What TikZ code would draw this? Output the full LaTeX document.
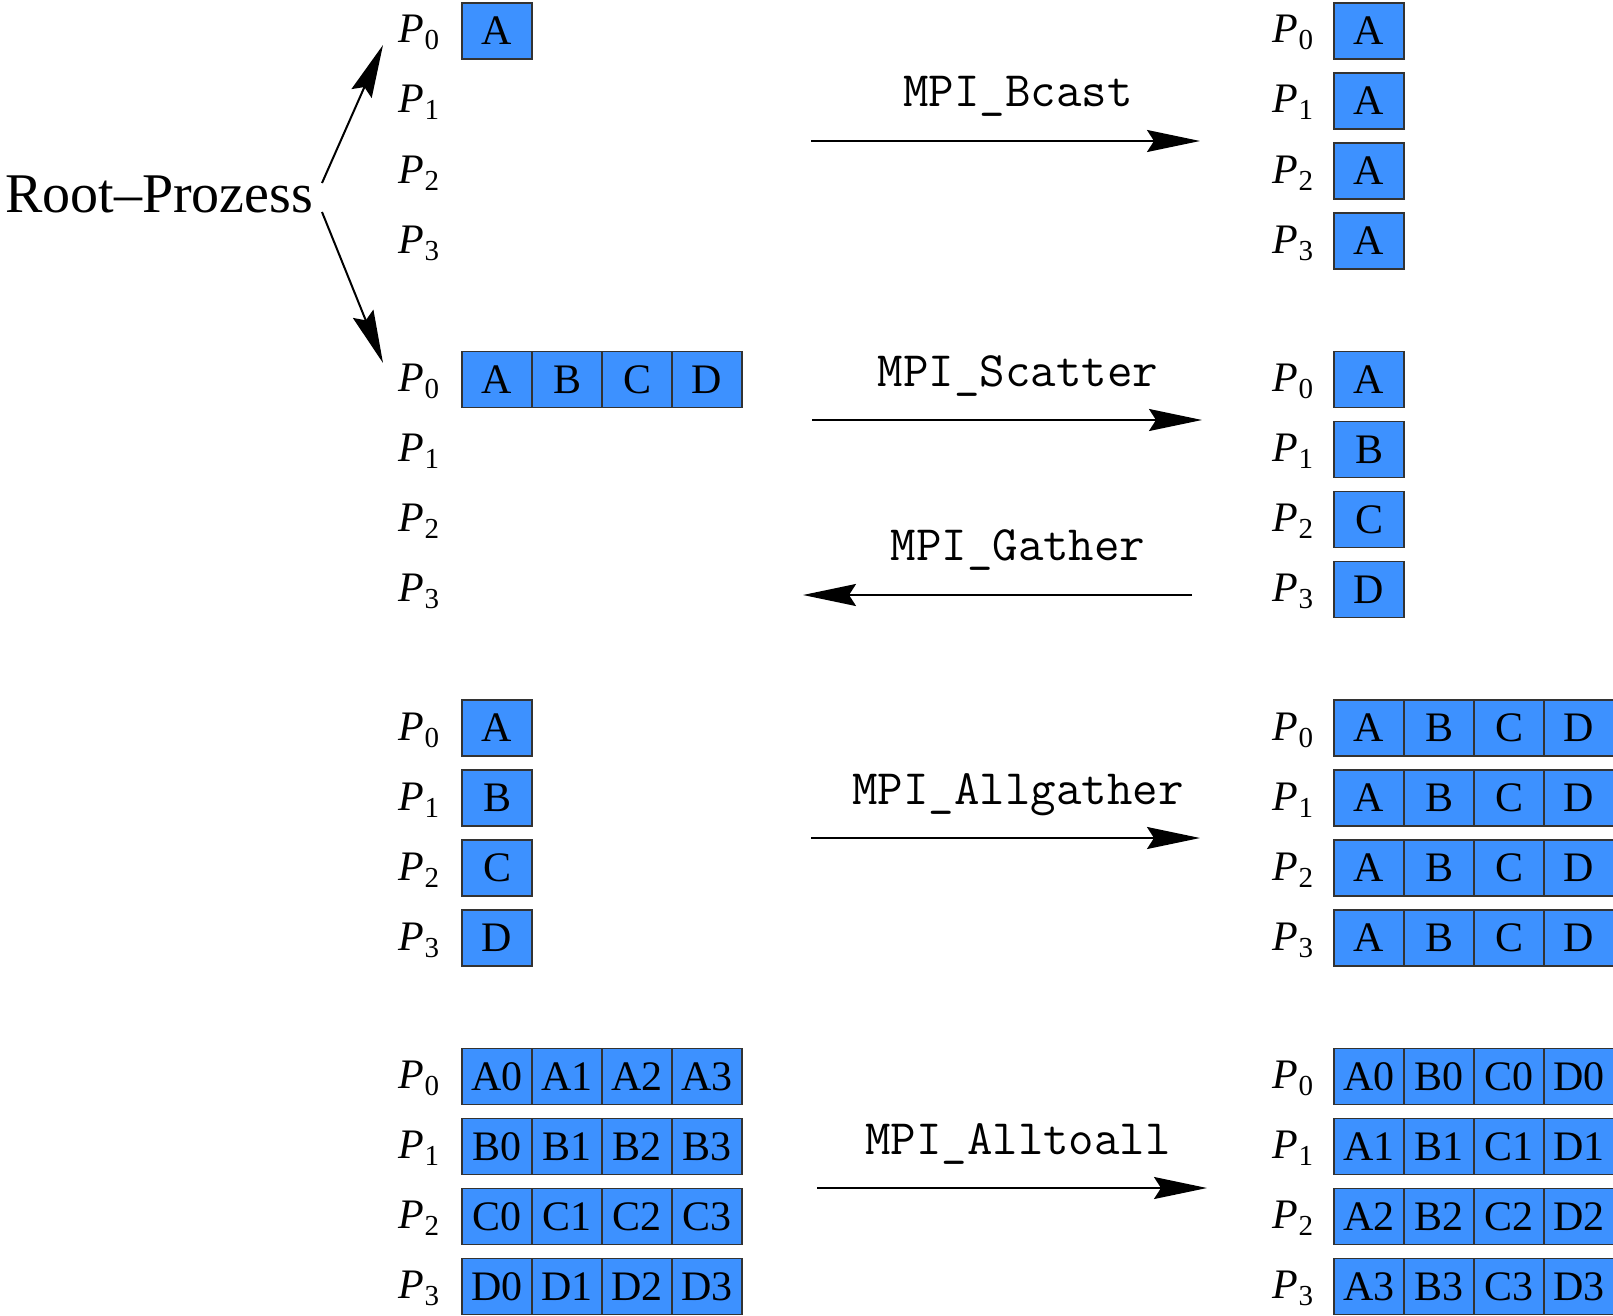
\documentclass[tikz,border=0pt]{standalone}
\usepackage{fontspec}
\setmainfont{Liberation Serif}
\usetikzlibrary{arrows.meta}

\definecolor{mpiblue}{RGB}{61,145,255}
\newcommand\pnum[1]{\textit{P}\raisebox{-7pt}{\fontsize{29}{29}\selectfont #1}}

\tikzset{
    cell/.style = {draw = black!80, fill = mpiblue, line width = 1.2pt, inner sep = 0pt,
                   minimum width = 70pt, minimum height = 56pt, font = \fontsize{42}{42}\selectfont},
    proc/.style = {anchor = base, inner sep = 0pt, font = \fontsize{42}{42}\selectfont},
    mpilabel/.style = {anchor = base, inner sep = 0pt, font = \fontsize{49.5}{49.5}\selectfont\ttfamily},
    mpiarrow/.style = {line width = 2pt, -{Stealth[length = 53pt, width = 22pt, inset = 7pt]}},
}

\begin{document}
\begin{tikzpicture}[x = 1pt, y = -1pt]
        \useasboundingbox (0,0) rectangle (1613,1316);
        % process names
        \foreach \g in {0,...,3}
            \foreach \r in {0,...,3} {
                \node [proc] (pl-\g-\r) at (419,{43+348.5*\g+70*\r}) {\pnum{\r}};
                \node [proc] (pr-\g-\r) at (1293,{43+348.5*\g+70*\r}) {\pnum{\r}};
            }
        % root
        \node [anchor = base west, inner sep = 0pt, font = \fontsize{56}{56}\selectfont] (root) at (5,212) {Root--Prozess};
        \coordinate (root-up) at (322,183);
        \coordinate (root-dn) at (322,212);
        \coordinate (bc-root) at (383,45);
        \coordinate (sc-root) at (383,363);
        \draw [mpiarrow] (root-up) -- (bc-root);
        \draw [mpiarrow] (root-dn) -- (sc-root);
        % MPI_Bcast
        \node [cell] (bc-src) at (497,31) {A};
        \foreach \r in {0,...,3}
            \node [cell] (bc-dst-\r) at (1369,{31+70*\r}) {A};
        % MPI_Scatter / MPI_Gather
        \foreach \c/\t in {0/A,1/B,2/C,3/D} {
            \node [cell] (sc-src-\c) at ({497+70*\c},379.5) {\t};
            \node [cell] (sc-dst-\c) at (1369,{379.5+70*\c}) {\t};
        }
        % MPI_Allgather
        \foreach \r/\t in {0/A,1/B,2/C,3/D} {
            \node [cell] (ag-src-\r) at (497,{728+70*\r}) {\t};
            \foreach \c/\u in {0/A,1/B,2/C,3/D}
                \node [cell] (ag-dst-\r-\c) at ({1369+70*\c},{728+70*\r}) {\u};
        }
        % MPI_Alltoall
        \foreach \r/\t in {0/A,1/B,2/C,3/D}
            \foreach \c/\u in {0/A,1/B,2/C,3/D} {
                \node [cell] (aa-src-\r-\c) at ({497+70*\c},{1076.5+70*\r}) {\t\c};
                \node [cell] (aa-dst-\r-\c) at ({1369+70*\c},{1076.5+70*\r}) {\u\r};
            }
        % operations
        \coordinate (bc-from) at (811,141);   \coordinate (bc-to) at (1200,141);
        \coordinate (sc-from) at (812,420);   \coordinate (sc-to) at (1202,420);
        \coordinate (ga-from) at (1192,595);  \coordinate (ga-to) at (803,595);
        \coordinate (ag-from) at (811,838);   \coordinate (ag-to) at (1200,838);
        \coordinate (aa-from) at (817,1188);  \coordinate (aa-to) at (1207,1188);
        \draw [mpiarrow] (bc-from) -- (bc-to);
        \draw [mpiarrow] (sc-from) -- (sc-to);
        \draw [mpiarrow] (ga-from) -- (ga-to);
        \draw [mpiarrow] (ag-from) -- (ag-to);
        \draw [mpiarrow] (aa-from) -- (aa-to);
        \node [mpilabel] (bc-lab) at (1018,107) {MPI\_Bcast};
        \node [mpilabel] (sc-lab) at (1018,386) {MPI\_Scatter};
        \node [mpilabel] (ga-lab) at (1018,560) {MPI\_Gather};
        \node [mpilabel] (ag-lab) at (1018,804) {MPI\_Allgather};
        \node [mpilabel] (aa-lab) at (1018,1154) {MPI\_Alltoall};
    \end{tikzpicture}
\end{document}
